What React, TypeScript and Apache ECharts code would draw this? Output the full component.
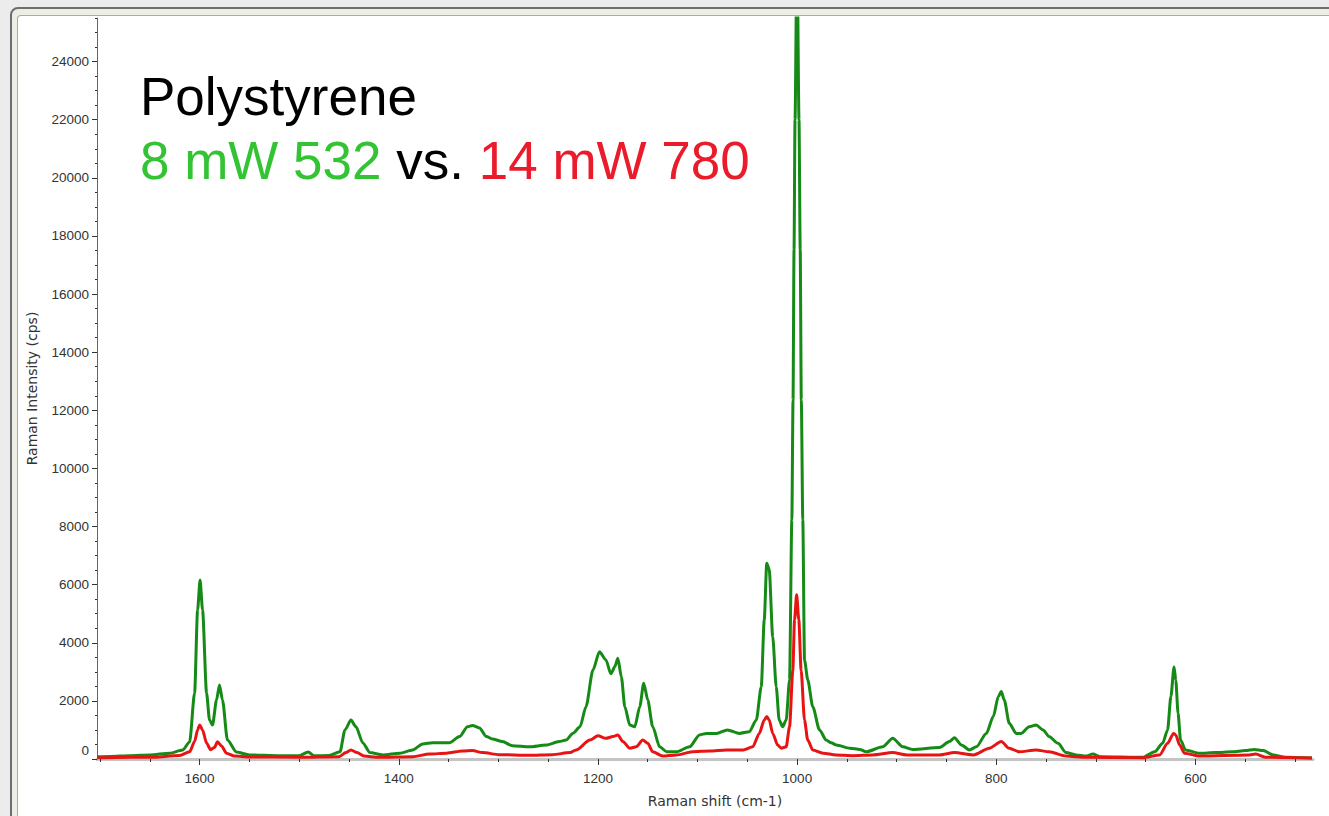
import React, { useEffect, useRef } from "react";
import * as echarts from "echarts";

// Raman shift (cm-1), intensity (cps)
const green532: [number, number][] = [
  [1703, 80], [1690, 90], [1670, 110], [1650, 140], [1630, 200], [1617, 310], [1610, 585],
  [1605, 2270], [1602, 5130], [1599.5, 6160], [1597, 5130], [1593, 2270], [1590, 1340],
  [1587, 1170], [1583, 2030], [1580, 2550], [1577, 2030], [1572, 650], [1563, 240], [1550, 140],
  [1520, 110], [1500, 110], [1491, 240], [1485, 110], [1470, 120], [1459, 250], [1454, 1000],
  [1448, 1340], [1443, 1110], [1436, 550], [1429, 220], [1416, 140], [1399, 200], [1386, 310],
  [1376, 520], [1366, 560], [1349, 560], [1339, 770], [1331, 1110], [1326, 1150], [1319, 1070],
  [1312, 770], [1306, 690], [1296, 600], [1286, 460], [1269, 420], [1252, 480], [1239, 600],
  [1232, 650], [1225, 890], [1218, 1110], [1212, 1800], [1205, 3060], [1198.5, 3690],
  [1192, 3410], [1187, 2930], [1183, 3180], [1180, 3470], [1176.5, 2830], [1173, 1800],
  [1168, 1170], [1163, 1110], [1158, 1800], [1154, 2610], [1150, 2030], [1145, 1110],
  [1138, 420], [1131, 250], [1121, 250], [1108, 420], [1098, 830], [1091, 880], [1081, 880],
  [1070, 1000], [1058, 880], [1048, 940], [1041, 1340], [1036, 2490], [1033, 4790],
  [1030.5, 6740], [1028, 6510], [1024.5, 4210], [1021, 2490], [1018, 1340], [1014.5, 1110],
  [1011, 1340], [1007.6, 2720], [1005.3, 8230], [1004.1, 12360], [1003.1, 17520],
  [1002.1, 22000], [1000.1, 28000], [998.1, 22000], [996.9, 17520], [995.8, 12360],
  [994.3, 8230], [992.6, 3410], [989.3, 2720], [984.3, 1800], [977.5, 1000], [970.8, 650],
  [965.8, 560], [960.7, 480], [947, 370], [937, 330], [930.6, 250], [914, 420], [904, 710],
  [894, 420], [884, 330], [857, 400], [847, 600], [842, 730], [835, 480], [827, 310], [820, 420],
  [810, 880], [803, 1460], [798, 2150], [795, 2320], [792, 2030], [787, 1230], [780, 880],
  [775, 880], [767, 1110], [760, 1170], [753, 1000], [747, 770], [738, 540], [730, 220],
  [720, 140], [710, 100], [703, 170], [696, 80], [653, 60], [641, 250], [633, 540], [628, 1000],
  [624.7, 2150], [621.5, 3170], [619.8, 2720], [617.5, 1580], [615, 650], [610, 310],
  [596, 200], [580, 220], [563, 250], [550, 290], [541, 330], [532, 290], [522, 140],
  [509, 60], [483, 35],
];

const red780: [number, number][] = [
  [1703, 40], [1670, 60], [1650, 60], [1620, 120], [1610, 250], [1605, 600], [1602, 1000],
  [1600, 1170], [1597, 1000], [1593, 550], [1589, 320], [1585, 400], [1582, 590], [1578, 450],
  [1573, 200], [1565, 100], [1550, 70], [1500, 60], [1460, 80], [1453, 220], [1448, 310],
  [1442, 220], [1435, 100], [1420, 60], [1386, 80], [1369, 170], [1352, 200], [1336, 275],
  [1326, 290], [1316, 220], [1299, 150], [1269, 130], [1246, 150], [1228, 220], [1222, 310],
  [1208, 650], [1200, 800], [1192, 710], [1185, 770], [1180, 830], [1175, 600], [1168, 370],
  [1161.5, 420], [1155, 650], [1150, 540], [1145, 250], [1135, 100], [1121, 140], [1105, 250],
  [1088, 275], [1071, 310], [1054, 310], [1044.5, 420], [1038, 880], [1033, 1340],
  [1030.5, 1460], [1028, 1340], [1024.5, 880], [1019.5, 480], [1016, 370], [1011, 420],
  [1007.6, 1110], [1004.3, 3060], [1002.6, 4790], [1000.5, 5650], [998.3, 4790], [996, 3060],
  [992.6, 1340], [989.3, 650], [984.3, 310], [974, 200], [961, 140], [944, 115], [924, 140],
  [904, 220], [890, 140], [857, 140], [842, 220], [823, 140], [807, 370], [795, 600], [787, 370],
  [777, 250], [760, 310], [747, 250], [730, 100], [710, 60], [653, 40], [636, 140], [628, 540],
  [622, 880], [619.8, 830], [616, 480], [611, 200], [596, 100], [546, 140], [539.5, 170],
  [530, 60], [483, 35],
];

const xMajorTicks = [1600, 1400, 1200, 1000, 800, 600];
const xMinorTicks = [1700, 1650, 1600, 1550, 1500, 1450, 1400, 1350, 1300, 1250, 1200, 1150,
  1100, 1050, 1000, 950, 900, 850, 800, 750, 700, 650, 600, 550, 500];
const yMajorTicks = [0, 2000, 4000, 6000, 8000, 10000, 12000, 14000, 16000, 18000, 20000, 22000, 24000];
const yMinorTicks = [0, 500, 1000, 1500, 2000, 2500, 3000, 3500, 4000, 4500, 5000, 5500, 6000,
  6500, 7000, 7500, 8000, 8500, 9000, 9500, 10000, 10500, 11000, 11500, 12000, 12500, 13000,
  13500, 14000, 14500, 15000, 15500, 16000, 16500, 17000, 17500, 18000, 18500, 19000, 19500,
  20000, 20500, 21000, 21500, 22000, 22500, 23000, 23500, 24000, 24500, 25000, 25500];

const titleLine1 = "Polystyrene";
const greenLabel = "8 mW 532";
const vsLabel = "vs.";
const redLabel = "14 mW 780";
const xName = "Raman shift (cm-1)";
const yName = "Raman Intensity (cps)";

const FONT = "'Liberation Sans', Arial, sans-serif";
const NAME_FONT = "'DejaVu Sans', Verdana, sans-serif";

export default function App() {
  const ref = useRef<HTMLDivElement>(null);
  useEffect(() => {
    if (!ref.current) return;
    const chart = echarts.init(ref.current, undefined, { renderer: "svg" });
    const xCommon = {
      type: "value" as const,
      inverse: true,
      min: 482,
      max: 1703,
      splitLine: { show: false },
    };
    const yCommon = {
      type: "value" as const,
      min: 0,
      max: 25500,
      splitLine: { show: false },
      position: "left" as const,
    };
    chart.setOption({
      animation: false,
      grid: { left: 97, right: 16, top: 18, bottom: 57, containLabel: false },
      xAxis: [
        {
          ...xCommon,
          axisLine: { show: true, onZero: false, lineStyle: { color: "#c4c4c4", width: 3 } },
          axisTick: { show: true, customValues: xMajorTicks, length: 6, lineStyle: { color: "#333", width: 1 } },
          axisLabel: {
            show: true,
            customValues: xMajorTicks,
            margin: 12,
            fontSize: 13.5,
            fontFamily: FONT,
            color: "#333",
            formatter: (v: number) => String(v),
          },
          name: xName,
          nameLocation: "middle",
          nameGap: 35,
          nameTextStyle: { fontSize: 14, fontFamily: NAME_FONT, color: "#333", padding: [0, 0, 0, 20] },
        },
        {
          ...xCommon,
          position: "bottom",
          axisLine: { show: false, onZero: false },
          axisTick: { show: true, customValues: xMinorTicks, length: 3, lineStyle: { color: "#333", width: 1 } },
          axisLabel: { show: false },
        },
      ],
      yAxis: [
        {
          ...yCommon,
          axisLine: { show: true, onZero: false, lineStyle: { color: "#666", width: 1 } },
          axisTick: { show: true, customValues: yMajorTicks, length: 5, lineStyle: { color: "#333", width: 1 } },
          axisLabel: {
            show: true,
            customValues: yMajorTicks,
            margin: 8,
            fontSize: 13.5,
            fontFamily: FONT,
            color: "#333",
            formatter: (v: number) => (v === 0 ? "{z|0}" : String(v)),
            rich: { z: { fontSize: 13.5, fontFamily: FONT, color: "#333", padding: [0, 0, 18, 0] } },
          },
          name: yName,
          nameLocation: "middle",
          nameGap: 58,
          nameRotate: 90,
          nameTextStyle: { fontSize: 14, fontFamily: NAME_FONT, color: "#333" },
        },
        {
          ...yCommon,
          offset: 0,
          axisLine: { show: false, onZero: false },
          axisTick: { show: true, customValues: yMinorTicks, length: 2, lineStyle: { color: "#333", width: 1 } },
          axisLabel: { show: false },
        },
      ],
      graphic: [
        {
          type: "text",
          x: 140,
          y: 96,
          style: { text: titleLine1, fontSize: 53, fontFamily: FONT, fill: "#000", verticalAlign: "middle" },
        },
        {
          type: "text",
          x: 140,
          y: 160,
          style: {
            text: `{g|${greenLabel}} {k|${vsLabel}} {r|${redLabel}}`,
            fontSize: 53,
            fontFamily: FONT,
            fill: "#000",
            verticalAlign: "middle",
            rich: {
              g: { fontSize: 53, fontFamily: FONT, fill: "#33c433", color: "#33c433" },
              k: { fontSize: 53, fontFamily: FONT, fill: "#000", color: "#000" },
              r: { fontSize: 53, fontFamily: FONT, fill: "#ea1c2c", color: "#ea1c2c" },
            },
          },
        },
      ],
      series: [
        {
          type: "line",
          name: "8 mW 532",
          data: green532,
          xAxisIndex: 0,
          yAxisIndex: 0,
          showSymbol: false,
          symbol: "none",
          clip: true,
          smooth: 0.25,
          smoothMonotone: "x",
          lineStyle: { color: "#168a16", width: 3 },
          z: 3,
        },
        {
          type: "line",
          name: "14 mW 780",
          data: red780,
          xAxisIndex: 0,
          yAxisIndex: 0,
          showSymbol: false,
          symbol: "none",
          clip: true,
          smooth: 0.25,
          smoothMonotone: "x",
          lineStyle: { color: "#e81414", width: 3 },
          z: 4,
        },
      ],
    });
    return () => chart.dispose();
  }, []);

  return (
    <div style={{ position: "fixed", left: 0, top: 0, width: 1329, height: 816, background: "#ececec", overflow: "hidden" }}>
      <div
        style={{
          position: "absolute",
          left: 10,
          top: 7,
          width: 1340,
          height: 820,
          boxSizing: "border-box",
          border: "2px solid #6e6e6e",
          borderRadius: 8,
          background: "#eeeee6",
        }}
      />
      <div
        style={{
          position: "absolute",
          left: 17,
          top: 15,
          width: 1330,
          height: 810,
          boxSizing: "border-box",
          borderLeft: "1px solid #a9ad98",
          borderTop: "1px solid #a9ad98",
          borderRadius: "4px 0 0 0",
          background: "#ffffff",
        }}
      />
      <div ref={ref} style={{ position: "absolute", left: 0, top: 0, width: 1329, height: 816 }} />
    </div>
  );
}
